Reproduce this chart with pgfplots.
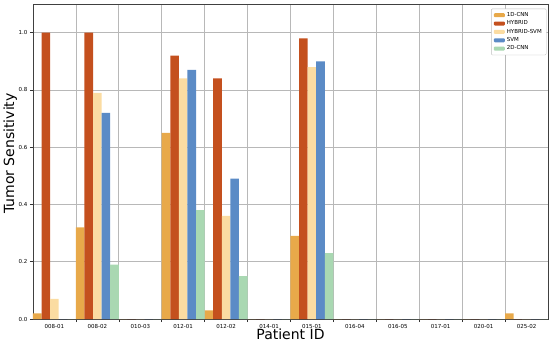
\documentclass[border=0pt]{standalone}
\usepackage{pgfplots}
\pgfplotsset{compat=1.18}
\usepackage{fontspec}
\setmainfont{DejaVu Sans}
\definecolor{cA}{HTML}{E8A94A}
\definecolor{cB}{HTML}{C4501E}
\definecolor{cC}{HTML}{FBDCA2}
\definecolor{cD}{HTML}{5B8BC6}
\definecolor{cE}{HTML}{A9D8B2}
\begin{document}
\begin{tikzpicture}
\path[use as bounding box] (-33pt,-27pt) rectangle (517pt,319pt);
\begin{axis}[
  at={(0,0)}, anchor=south west,
  width=515pt, height=315pt, scale only axis,
  xmin=-0.5, xmax=11.5, ymin=0, ymax=1.1,
  ybar, bar width=0.2,
  xtick={0,...,11},
  xticklabels={008-01,008-02,010-03,012-01,012-02,014-01,015-01,016-04,016-05,017-01,020-01,025-02},
  minor xtick={0.5,1.5,...,10.5},
  xminorgrids=true, xmajorgrids=false,
  ytick={0,0.2,...,1.0},
  ymajorgrids=true,
  grid style={color=black!28, line width=0.7pt},
  minor grid style={color=black!28, line width=0.7pt},
  tick align=outside,
  xtick style={draw=none},
  minor x tick style={draw=black!80, line width=0.5pt},
  minor tick length=3pt,
  major tick length=3pt,
  ytick style={draw=black!80, line width=0.5pt},
  tick pos=left,
  axis line style={black!75, line width=0.8pt},
  y tick label style={/pgf/number format/fixed, /pgf/number format/fixed zerofill, /pgf/number format/precision=1},
  /pgf/number format/assume math mode=true,
  tick label style={font=\fontsize{5.5}{6}\selectfont},
  xticklabel style={yshift=1pt},
  yticklabel style={xshift=1pt},
  xlabel={Patient ID},
  ylabel={Tumor Sensitivity},
  label style={font=\fontsize{14}{16}\selectfont},
  xlabel style={at={(axis description cs:0.5,-0.047)}, anchor=center},
  ylabel style={at={(axis description cs:-0.044,0.525)}, anchor=center},
  legend style={at={(0.997,0.985)}, anchor=north east, font=\fontsize{5.5}{6}\selectfont,
    draw=black!25, rounded corners=1pt, inner xsep=2.5pt, inner ysep=1.5pt, row sep=-1.2pt,
    legend cell align=left},
  legend image code/.code={\fill[#1] (-1pt,-2pt) rectangle (10pt,2pt);},
]
\addplot[fill=cA, draw=none, bar shift=-0.4] coordinates {
 (0,0.02) (1,0.32) (2,0) (3,0.65) (4,0.03) (5,0) (6,0.29) (7,0) (8,0) (9,0) (10,0) (11,0.02)};
\addplot[fill=cB, draw=none, bar shift=-0.2] coordinates {
 (0,1.0) (1,1.0) (2,0) (3,0.92) (4,0.84) (5,0) (6,0.98) (7,0) (8,0) (9,0) (10,0) (11,0)};
\addplot[fill=cC, draw=none, bar shift=0] coordinates {
 (0,0.07) (1,0.79) (2,0) (3,0.84) (4,0.36) (5,0) (6,0.88) (7,0) (8,0) (9,0) (10,0) (11,0)};
\addplot[fill=cD, draw=none, bar shift=0.2] coordinates {
 (0,0) (1,0.72) (2,0) (3,0.87) (4,0.49) (5,0) (6,0.90) (7,0) (8,0) (9,0) (10,0) (11,0)};
\addplot[fill=cE, draw=none, bar shift=0.4] coordinates {
 (0,0) (1,0.19) (2,0) (3,0.38) (4,0.15) (5,0) (6,0.23) (7,0) (8,0) (9,0) (10,0) (11,0)};
\legend{1D-CNN,HYBRID,HYBRID-SVM,SVM,2D-CNN}
\end{axis}
\end{tikzpicture}
\end{document}
